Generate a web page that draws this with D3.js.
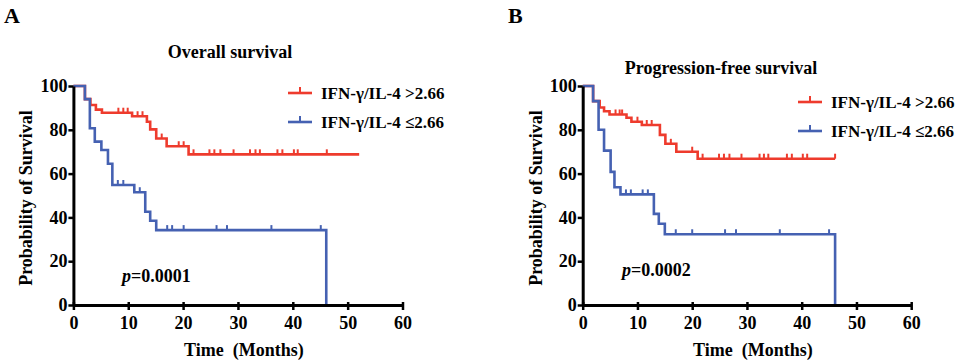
<!doctype html>
<html lang="en">
<head>
<meta charset="utf-8">
<title>Survival curves</title>
<script src="https://cdn.jsdelivr.net/npm/d3@7"></script>
<style>
  body { margin: 0; background: #fff; }
  text { font-family: "Liberation Serif", "Times New Roman", serif; font-weight: bold; fill: #000; }
</style>
</head>
<body>
<script>
// axis ticks
var xTicks = [0, 10, 20, 30, 40, 50, 60];
var yTicks = [0, 20, 40, 60, 80, 100];

// panel A, overall survival: step times (months) and survival (%) after each step
var osHighTimes = [2.1, 3.1, 4.1, 5.2, 10.7, 13.4, 14.0, 15.1, 17.0, 21.0];
var osHighSurv  = [94, 91.3, 89.2, 87.8, 86.2, 83.7, 80.2, 76.0, 72.5, 68.8];
var osHighCensor = [8.2, 9.1, 9.9, 11.7, 12.6, 16.1, 19.2, 20.1, 21.9, 24.8, 25.7, 26.8, 29.2, 32.2, 33.2, 34.0, 37.2, 38.1, 40.2, 40.9, 46.2];
var osHighEnd = 52.1;

var osLowTimes = [2.1, 3.0, 3.9, 5.1, 6.3, 7.1, 11.1, 13.1, 14.0, 15.1, 46.1];
var osLowSurv  = [94, 80.7, 74.6, 70.8, 64.5, 54.8, 51.5, 42.6, 38.5, 34.2, 0];
var osLowCensor = [8.1, 9.1, 12.1, 17.1, 18.0, 20.1, 26.1, 28.0, 36.1, 45.1];
var osLowEnd = 46.1;

// panel B, progression-free survival
var pfsHighTimes = [1.9, 3.1, 3.9, 4.9, 8.0, 8.9, 10.8, 14.1, 15.1, 17.1, 21.0];
var pfsHighSurv  = [93.1, 90.2, 88.5, 87.0, 85.5, 83.7, 82.2, 77.7, 73.6, 70.0, 66.8];
var pfsHighCensor = [6.0, 6.75, 7.2, 10.0, 11.7, 12.6, 16.1, 20.0, 21.9, 24.9, 25.8, 26.8, 29.0, 32.3, 33.1, 33.9, 37.3, 38.2, 40.2, 41.0, 46.1];
var pfsHighEnd = 46.1;

var pfsLowTimes = [1.9, 2.9, 3.9, 5.1, 5.8, 6.9, 13.0, 13.9, 15.0, 46.1];
var pfsLowSurv  = [93.1, 80.0, 70.5, 60.8, 53.8, 50.5, 41.6, 37.1, 32.3, 0];
var pfsLowCensor = [7.9, 8.8, 10.95, 11.9, 17.0, 20.0, 26.0, 28.0, 36.0, 45.0];
var pfsLowEnd = 46.1;

var legendLabels = ["IFN-\u03b3/IL-4 >2.66", "IFN-\u03b3/IL-4 \u22642.66"];
var red = "#ee3b2d", blue = "#4561b2";

var svg = d3.select("body").append("svg")
    .attr("width", 970)
    .attr("height", 363);

function stepPoints(times, surv, end) {
    var pts = [[0, 100]];
    times.forEach(function(t, i) { pts.push([t, surv[i]]); });
    var last = pts[pts.length - 1];
    if (end > last[0]) pts.push([end, last[1]]);
    return pts;
}

function survAt(times, surv, t) {
    var s = 100;
    times.forEach(function(tt, i) { if (tt <= t) s = surv[i]; });
    return s;
}

function drawPanel(cfg) {
    var x = d3.scaleLinear().domain([0, 60]).range([cfg.x0, cfg.x1]);
    var y = d3.scaleLinear().domain([0, 100]).range([305, 86]);
    var g = svg.append("g");

    // panel letter and title
    g.append("text").attr("x", cfg.letterX).attr("y", 23)
        .style("font-size", "22px").text(cfg.letter);
    g.append("text").attr("x", cfg.titleX).attr("y", cfg.titleY)
        .attr("text-anchor", "middle").style("font-size", "18px").text(cfg.title);

    var line = d3.line()
        .x(function(d) { return x(d[0]); })
        .y(function(d) { return y(d[1]); })
        .curve(d3.curveStepAfter);

    cfg.series.forEach(function(s) {
        g.append("path")
            .datum(stepPoints(s.times, s.surv, s.end))
            .attr("fill", "none")
            .attr("stroke", s.color)
            .attr("stroke-width", 2.6)
            .attr("d", line);
        g.selectAll(null)
            .data(s.censor)
            .enter()
            .append("line")
            .attr("x1", function(d) { return x(d); })
            .attr("x2", function(d) { return x(d); })
            .attr("y1", function(d) { return y(survAt(s.times, s.surv, d)); })
            .attr("y2", function(d) { return y(survAt(s.times, s.surv, d)) - 5; })
            .attr("stroke", s.color)
            .attr("stroke-width", 2);
    });

    // axes
    var xAxis = g.append("g").attr("transform", "translate(0,305)")
        .call(d3.axisBottom(x).tickValues(xTicks).tickSize(5).tickSizeOuter(0));
    var yAxis = g.append("g").attr("transform", "translate(" + cfg.x0 + ",0)")
        .call(d3.axisLeft(y).tickValues(yTicks).tickSize(5).tickSizeOuter(0));
    [xAxis, yAxis].forEach(function(a) {
        a.select(".domain").attr("stroke", "#000").attr("stroke-width", 3);
        a.selectAll(".tick line").attr("stroke", "#000").attr("stroke-width", 2.5);
        a.selectAll(".tick text")
            .style("font-family", "'Liberation Serif', serif")
            .style("font-weight", "bold")
            .style("font-size", "18px")
            .attr("fill", "#000");
    });
    xAxis.selectAll(".tick line").attr("y1", -3);
    xAxis.selectAll(".tick text").attr("dy", "0.9em");
    yAxis.selectAll(".tick text").attr("x", -6);

    g.append("text")
        .attr("x", (cfg.x0 + cfg.x1) / 2 + 6).attr("y", 356)
        .attr("text-anchor", "middle").style("font-size", "18px")
        .style("white-space", "pre").text("Time  (Months)");
    g.append("text")
        .attr("transform", "translate(" + (cfg.x0 - 41) + ",198) rotate(-90)")
        .attr("text-anchor", "middle").style("font-size", "18px")
        .text("Probability of Survival");

    // legend
    cfg.series.forEach(function(s, i) {
        var ly = cfg.legendY + i * 29;
        g.append("line").attr("x1", cfg.legendX).attr("x2", cfg.legendX + 24)
            .attr("y1", ly).attr("y2", ly)
            .attr("stroke", s.color).attr("stroke-width", 2.6);
        g.append("line").attr("x1", cfg.legendX + 12).attr("x2", cfg.legendX + 12)
            .attr("y1", ly).attr("y2", ly - 6)
            .attr("stroke", s.color).attr("stroke-width", 2);
        g.append("text").attr("x", cfg.legendX + 33).attr("y", ly + 6)
            .style("font-size", "17px").text(legendLabels[i]);
    });

    // p value
    var p = g.append("text").attr("x", cfg.pX).attr("y", cfg.pY).style("font-size", "18px");
    p.append("tspan").style("font-style", "italic").text("p");
    p.append("tspan").text("=" + cfg.pValue);
}

drawPanel({
    letter: "A", letterX: 4, title: "Overall survival", titleX: 230, titleY: 58,
    x0: 73.4, x1: 402.5, legendX: 288, legendY: 93, pX: 122, pY: 282, pValue: "0.0001",
    series: [
        { times: osHighTimes, surv: osHighSurv, censor: osHighCensor, end: osHighEnd, color: red },
        { times: osLowTimes, surv: osLowSurv, censor: osLowCensor, end: osLowEnd, color: blue }
    ]
});

drawPanel({
    letter: "B", letterX: 508, title: "Progression-free survival", titleX: 721, titleY: 74,
    x0: 582.7, x1: 911.2, legendX: 798, legendY: 102, pX: 622, pY: 276, pValue: "0.0002",
    series: [
        { times: pfsHighTimes, surv: pfsHighSurv, censor: pfsHighCensor, end: pfsHighEnd, color: red },
        { times: pfsLowTimes, surv: pfsLowSurv, censor: pfsLowCensor, end: pfsLowEnd, color: blue }
    ]
});
</script>
</body>
</html>
